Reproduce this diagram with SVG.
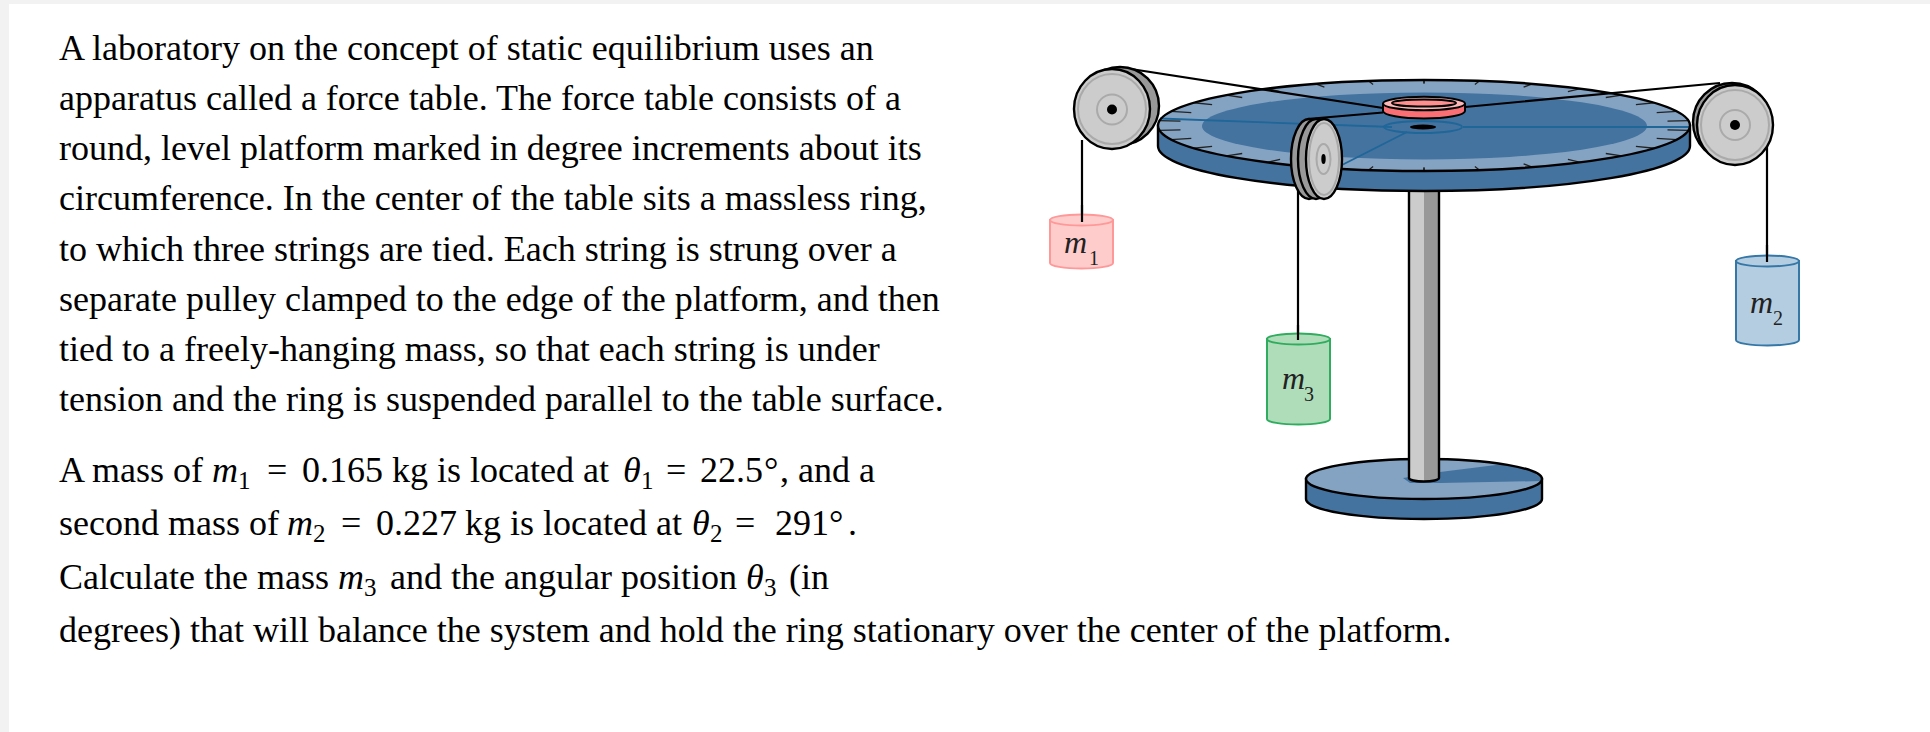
<svg xmlns="http://www.w3.org/2000/svg" width="1930" height="732" viewBox="0 0 1930 732">
<style>
.t{font-family:"Liberation Serif","Times New Roman",serif;font-size:36px;fill:#000}
.i{font-style:italic}
.s{font-size:25px}
.lm{font-family:"Liberation Serif","Times New Roman",serif;font-size:32px;font-style:italic;fill:#222}
.ls{font-family:"Liberation Serif","Times New Roman",serif;font-size:20px;fill:#222}
.k{stroke:#000;stroke-width:2.4;fill:none}
.str{stroke:#000;stroke-width:2.2;fill:none}
.tick{stroke:#222;stroke-width:1.3;fill:none}
.bl{fill:#44739f}
.lb{fill:#84a3c2}
.g1{fill:#ccc}
.g2{fill:#999}
.rad{stroke:#1f6699;stroke-width:1.8;fill:none}
</style>
<defs>
<path id="q" d="M0 45.5V41.9M55.3 44.5L50.9 41M108.3 41.6L99.6 38.3M156.4 36.8L143.9 33.9M197.6 30.4L181.8 28M230.4 22.75L211.9 20.95M253 14.1L232.7 12.9M264.7 4.8L243.5 4.4"/>
<clipPath id="bc"><ellipse cx="1424" cy="479" rx="118" ry="20"/></clipPath>
</defs>
<rect width="1930" height="732" fill="#f2f2f2"/>
<rect x="9" y="4" width="1921" height="728" fill="#fff"/>
<g id="problem-text">
<text class="t" x="59" y="60">A laboratory on the concept of static equilibrium uses an</text>
<text class="t" x="59" y="110">apparatus called a force table. The force table consists of a</text>
<text class="t" x="59" y="160">round, level platform marked in degree increments about its</text>
<text class="t" x="59" y="210">circumference. In the center of the table sits a massless ring,</text>
<text class="t" x="59" y="261">to which three strings are tied. Each string is strung over a</text>
<text class="t" x="59" y="311">separate pulley clamped to the edge of the platform, and then</text>
<text class="t" x="59" y="361">tied to a freely-hanging mass, so that each string is under</text>
<text class="t" x="59" y="411">tension and the ring is suspended parallel to the table surface.</text>
<text class="t" x="59" y="482">A mass of</text><text class="t i" x="212" y="482">m</text><text class="t s" x="238" y="489">1</text><text class="t" x="267" y="482">=</text><text class="t" x="302" y="482">0.165</text><text class="t" x="392" y="482">kg is located at</text><text class="t i" x="623" y="482">θ</text><text class="t s" x="641" y="489">1</text><text class="t" x="666" y="482">=</text><text class="t" x="700" y="482">22.5</text><text class="t" x="764" y="482">°</text><text class="t" x="780" y="482">, and a</text>
<text class="t" x="59" y="535">second mass of</text><text class="t i" x="287" y="535">m</text><text class="t s" x="313" y="542">2</text><text class="t" x="341" y="535">=</text><text class="t" x="376" y="535">0.227</text><text class="t" x="465" y="535">kg is located at</text><text class="t i" x="692" y="535">θ</text><text class="t s" x="710" y="542">2</text><text class="t" x="735" y="535">=</text><text class="t" x="775" y="535">291</text><text class="t" x="829" y="535">°</text><text class="t" x="848" y="535">.</text>
<text class="t" x="59" y="589">Calculate the mass</text><text class="t i" x="338" y="589">m</text><text class="t s" x="364" y="596">3</text><text class="t" x="390" y="589">and the angular position</text><text class="t i" x="746" y="589">θ</text><text class="t s" x="764" y="596">3</text><text class="t" x="789" y="589">(in</text>
<text class="t" x="59" y="642">degrees) that will balance the system and hold the ring stationary over the center of the platform.</text>
</g>
<g id="base">
<path class="bl k" d="M1306 479V499A118 20 0 0 0 1542 499V479Z"/>
<ellipse class="lb" cx="1424" cy="479" rx="118" ry="20"/>
<path class="bl" clip-path="url(#bc)" d="M1403 478L1440 472L1520 462L1545 481L1440 483L1410 483Z"/>
<ellipse class="k" cx="1424" cy="479" rx="118" ry="20"/>
</g>
<g id="post">
<path class="g1" d="M1409 188H1424V481A15 3 0 0 1 1409 478Z"/>
<path class="g2" d="M1424 188H1439V478A15 3 0 0 1 1424 481Z"/>
<path class="k" d="M1409 188V478A15 3.5 0 0 0 1439 478V188"/>
</g>
<g id="table">
<path class="bl k" d="M1158 125.5V146A266 45 0 0 0 1690 146V125.5Z"/>
<ellipse class="lb" cx="1424" cy="125.5" rx="266" ry="45.5"/>
<ellipse class="bl" cx="1424.5" cy="126" rx="222.5" ry="33.5"/>
<path class="rad" d="M1160 118.5L1392 127M1463 127H1690M1407 132L1340 166"/>
<ellipse class="rad" cx="1423" cy="127" rx="39" ry="6"/>
<ellipse cx="1423" cy="127" rx="13" ry="2.5" fill="#000"/>
<g class="tick">
<use href="#q" transform="translate(1424 125.5)"/>
<use href="#q" transform="translate(1424 125.5) scale(-1 1)"/>
<use href="#q" transform="translate(1424 125.5) scale(1 -1)"/>
<use href="#q" transform="translate(1424 125.5) scale(-1 -1)"/>
</g>
<ellipse class="k" cx="1424" cy="125.5" rx="266" ry="45.5"/>
</g>
<g id="ring">
<path d="M1383 104V111A41 7.5 0 0 0 1465 111V104Z" fill="#f96f73" stroke="#000" stroke-width="2"/>
<ellipse cx="1424" cy="103.5" rx="41" ry="6.8" fill="#ffb8b8" stroke="#000" stroke-width="2"/>
<ellipse cx="1424" cy="103" rx="32" ry="3.6" fill="#ff8f8f" stroke="#000" stroke-width="2"/>
</g>
<g id="strings">
<path class="str" d="M1118 67L1383 108M1465 107L1720 83M1307 119L1383 112.5M1082 140V222M1767 145V262M1298 190V340"/>
</g>
<g id="pulley-1">
<circle cx="1120" cy="106" r="39" class="g2" stroke="#000" stroke-width="2.4"/>
<ellipse cx="1112" cy="109" rx="38" ry="40" class="g1" stroke="#000" stroke-width="2.4"/>
<ellipse cx="1112" cy="109" rx="34" ry="35" fill="none" stroke="#aaa" stroke-width="2"/>
<circle cx="1112" cy="109.5" r="15" fill="none" stroke="#aaa" stroke-width="2"/>
<circle cx="1112" cy="109.5" r="5" fill="#000"/>
</g>
<g id="pulley-2">
<circle cx="1732" cy="122" r="39" class="g2" stroke="#000" stroke-width="2.4"/>
<ellipse cx="1735" cy="125" rx="38" ry="40" class="g1" stroke="#000" stroke-width="2.4"/>
<ellipse cx="1735" cy="125" rx="34" ry="35" fill="none" stroke="#aaa" stroke-width="2"/>
<circle cx="1735" cy="125" r="15" fill="none" stroke="#aaa" stroke-width="2"/>
<circle cx="1735" cy="125" r="5" fill="#000"/>
</g>
<g id="pulley-3">
<ellipse cx="1309" cy="159" rx="18" ry="40" class="g2" stroke="#000" stroke-width="2.4"/>
<ellipse cx="1316" cy="159" rx="18" ry="40" class="g2" stroke="#000" stroke-width="2.4"/>
<ellipse cx="1324" cy="159" rx="18" ry="40" class="g1" stroke="#000" stroke-width="2.4"/>
<ellipse cx="1324" cy="159" rx="15" ry="36" fill="none" stroke="#aaa" stroke-width="2"/>
<ellipse cx="1323.5" cy="159" rx="7" ry="15" fill="none" stroke="#aaa" stroke-width="2"/>
<ellipse cx="1323.5" cy="159" rx="2.2" ry="5" fill="#000"/>
</g>
<g id="mass-1">
<path d="M1050 220V263A31.5 5.5 0 0 0 1113 263V220Z" fill="#ffcccc" stroke="#ff9999" stroke-width="2"/>
<ellipse cx="1081.5" cy="220" rx="31.5" ry="5.5" fill="#ffcccc" stroke="#ff9999" stroke-width="2"/>
<path class="str" d="M1082 205V222"/>
<text class="lm" x="1064" y="253">m</text><text class="ls" x="1089" y="265">1</text>
</g>
<g id="mass-2">
<path d="M1736 261V340A31.5 5.5 0 0 0 1799 340V261Z" fill="#b5cde0" stroke="#3578a8" stroke-width="2"/>
<ellipse cx="1767.5" cy="261" rx="31.5" ry="5.5" fill="#b5cde0" stroke="#3578a8" stroke-width="2"/>
<path class="str" d="M1767 245V262"/>
<text class="lm" x="1750" y="313">m</text><text class="ls" x="1773" y="325">2</text>
</g>
<g id="mass-3">
<path d="M1267 339V419A31.5 5.5 0 0 0 1330 419V339Z" fill="#b0ddb9" stroke="#2fac5e" stroke-width="2"/>
<ellipse cx="1298.5" cy="339" rx="31.5" ry="5.5" fill="#b0ddb9" stroke="#2fac5e" stroke-width="2"/>
<path class="str" d="M1298 325V340"/>
<text class="lm" x="1282" y="389">m</text><text class="ls" x="1304" y="401">3</text>
</g>
</svg>
